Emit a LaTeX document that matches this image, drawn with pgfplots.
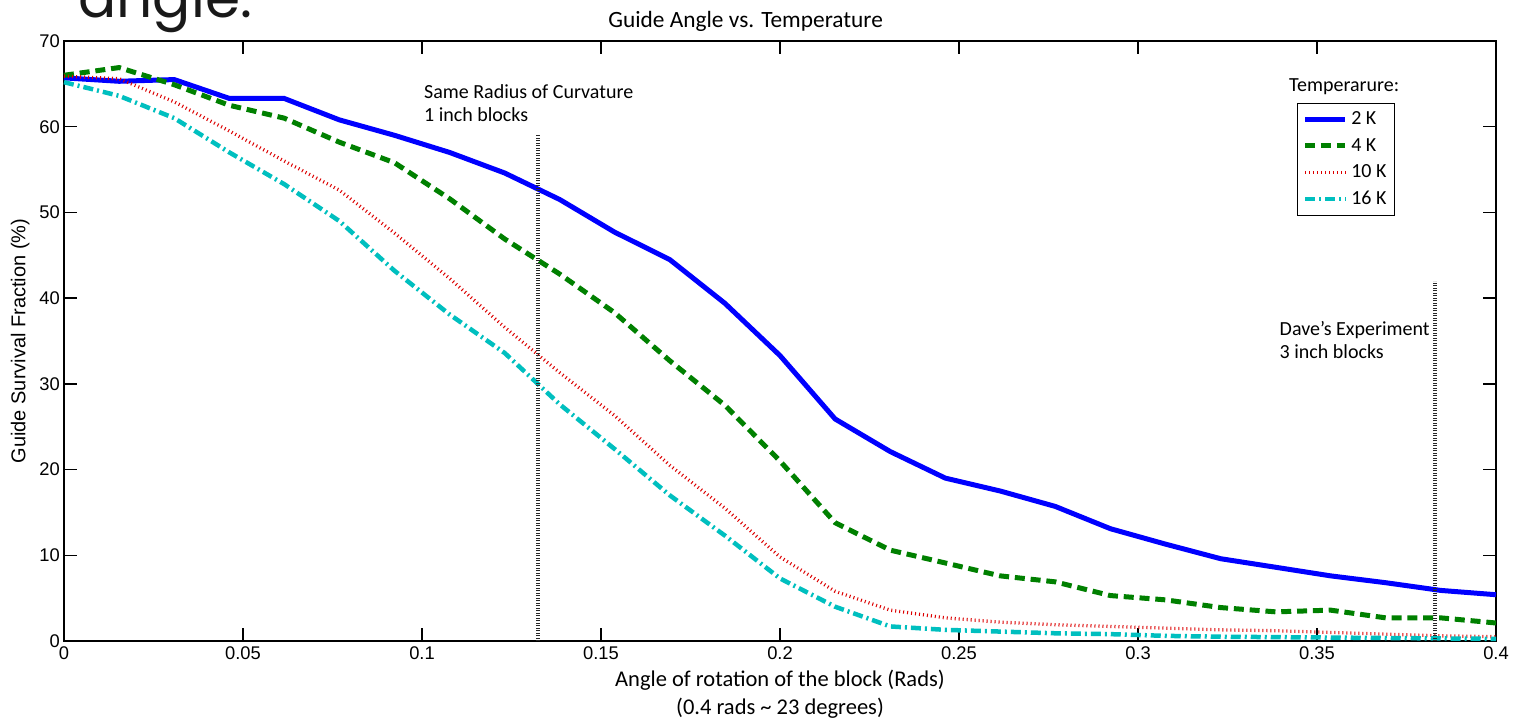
\documentclass[border=0pt]{standalone}
\usepackage{fontspec}
\setmainfont{Carlito}
\newfontfamily\arial{Liberation Sans}
\newfontfamily\poppins{Poppins}
\usepackage{pgfplots}
\usepackage{pgfplotstable}
\pgfplotsset{compat=1.18}

\definecolor{mlblue}{RGB}{0,0,255}
\definecolor{mlgreen}{RGB}{0,128,0}
\definecolor{mlred}{RGB}{220,0,0}
\definecolor{mlcyan}{RGB}{0,191,191}

% angle (rad) vs guide survival fraction (%) for each temperature
\pgfplotstableread{
x      b2   g4   r10  c16
0      65.7 66.0 65.9 65.2
0.0154 65.3 66.9 65.6 63.6
0.0308 65.5 64.9 62.9 61.0
0.0462 63.3 62.5 59.5 57.0
0.0615 63.3 61.0 56.0 53.3
0.0769 60.8 58.2 52.6 49.0
0.0923 59.0 55.8 47.6 43.2
0.1077 57.0 51.6 42.3 38.1
0.1231 54.6 46.9 36.6 33.6
0.1385 51.5 42.8 31.3 27.6
0.1538 47.7 38.3 26.3 22.4
0.1692 44.5 32.7 20.5 17.0
0.1846 39.4 27.5 15.5 12.3
0.2    33.3 21.0 9.8  7.3
0.2154 25.9 13.8 5.8  4.0
0.2308 22.1 10.6 3.6  1.7
0.2462 19.0 9.1  2.7  1.3
0.2615 17.5 7.6  2.2  1.1
0.2769 15.7 6.9  1.9  0.9
0.2923 13.1 5.3  1.7  0.8
0.3077 11.3 4.8  1.5  0.6
0.3231 9.6  3.9  1.3  0.5
0.3385 8.6  3.4  1.2  0.45
0.3538 7.6  3.6  1.0  0.4
0.3692 6.8  2.7  0.8  0.35
0.3846 5.9  2.7  0.6  0.3
0.4    5.4  2.1  0.5  0.25
}\survival

\begin{document}
\begin{tikzpicture}
\begin{axis}[
    scale only axis, width=859.2pt, height=360pt,
    xmin=0, xmax=0.4, ymin=0, ymax=70,
    xtick={0,0.05,0.1,0.15,0.2,0.25,0.3,0.35,0.4},
    ytick={0,10,20,30,40,50,60,70},
    scaled x ticks=false,
    xticklabel style={/pgf/number format/fixed, /pgf/number format/precision=2},
    /pgf/number format/assume math mode=true,
    tick label style={font=\arial\fontsize{11}{13}\selectfont},
    yticklabel style={xshift=1pt},
    tick align=inside, major tick length=8pt,
    tick style={black, line width=0.8pt},
    axis line style={black, line width=1pt},
    xlabel={Angle of rotation of the block (Rads)\\(0.4 rads \textasciitilde{} 23 degrees)},
    xlabel style={align=center, font=\fontsize{13.5}{17}\selectfont, yshift=1pt},
    ylabel={Guide Survival Fraction (\%)},
    ylabel style={font=\arial\fontsize{12}{14}\selectfont, yshift=-1pt},
    legend style={at={(0.861,0.897)}, anchor=north west, draw=black, line width=0.8pt,
        font=\fontsize{12}{13.5}\selectfont, inner sep=3pt, row sep=2.6pt},
    legend cell align=left,
    legend image code/.code={\draw[#1] (0cm,0cm) -- (0.85cm,0cm);},
    clip=false,
]
\addplot[mlblue, line width=3pt] table[x=x, y=b2] {\survival};
\addlegendentry{2 K}
\addplot[mlgreen, line width=3pt, dash pattern=on 6pt off 3.5pt] table[x=x, y=g4] {\survival};
\addlegendentry{4 K}
\addplot[mlred, line width=2pt, dash pattern=on 0.6pt off 1.8pt] table[x=x, y=r10] {\survival};
\addlegendentry{10 K}
\addplot[mlcyan, line width=2.7pt, dash pattern=on 6pt off 2.4pt on 1.2pt off 2.4pt] table[x=x, y=c16] {\survival};
\addlegendentry{16 K}

% marker lines
\addplot[black!85, line width=2.4pt, dash pattern=on 0.6pt off 0.9pt, forget plot] coordinates {(0.1325,0) (0.1325,59)};
\addplot[black!85, line width=2.4pt, dash pattern=on 0.6pt off 0.9pt, forget plot] coordinates {(0.383,0) (0.383,42)};

\node[anchor=west, align=left, font=\fontsize{12}{14}\selectfont, inner sep=0pt] at (axis cs:0.1005,62.75) {Same Radius of Curvature\\1 inch blocks};
\node[anchor=west, align=left, font=\fontsize{12}{14}\selectfont, inner sep=0pt] at (axis cs:0.3395,35.15) {Dave's Experiment\\3 inch blocks};
\node[font=\fontsize{12}{14}\selectfont] at (rel axis cs:0.894,0.924) {Temperarure:};
\node[font=\fontsize{14}{16}\selectfont] at (rel axis cs:0.476,1.033) {Guide Angle vs. Temperature};
\end{axis}
\node[anchor=base west, font=\poppins\fontsize{34}{40}\selectfont, text=black!90, inner sep=0pt] at (8.4pt,373.8pt) {angle.};
\pgfresetboundingbox
\path (-38.4pt,-47.4pt) rectangle (870pt,384.6pt);
\end{tikzpicture}
\end{document}
